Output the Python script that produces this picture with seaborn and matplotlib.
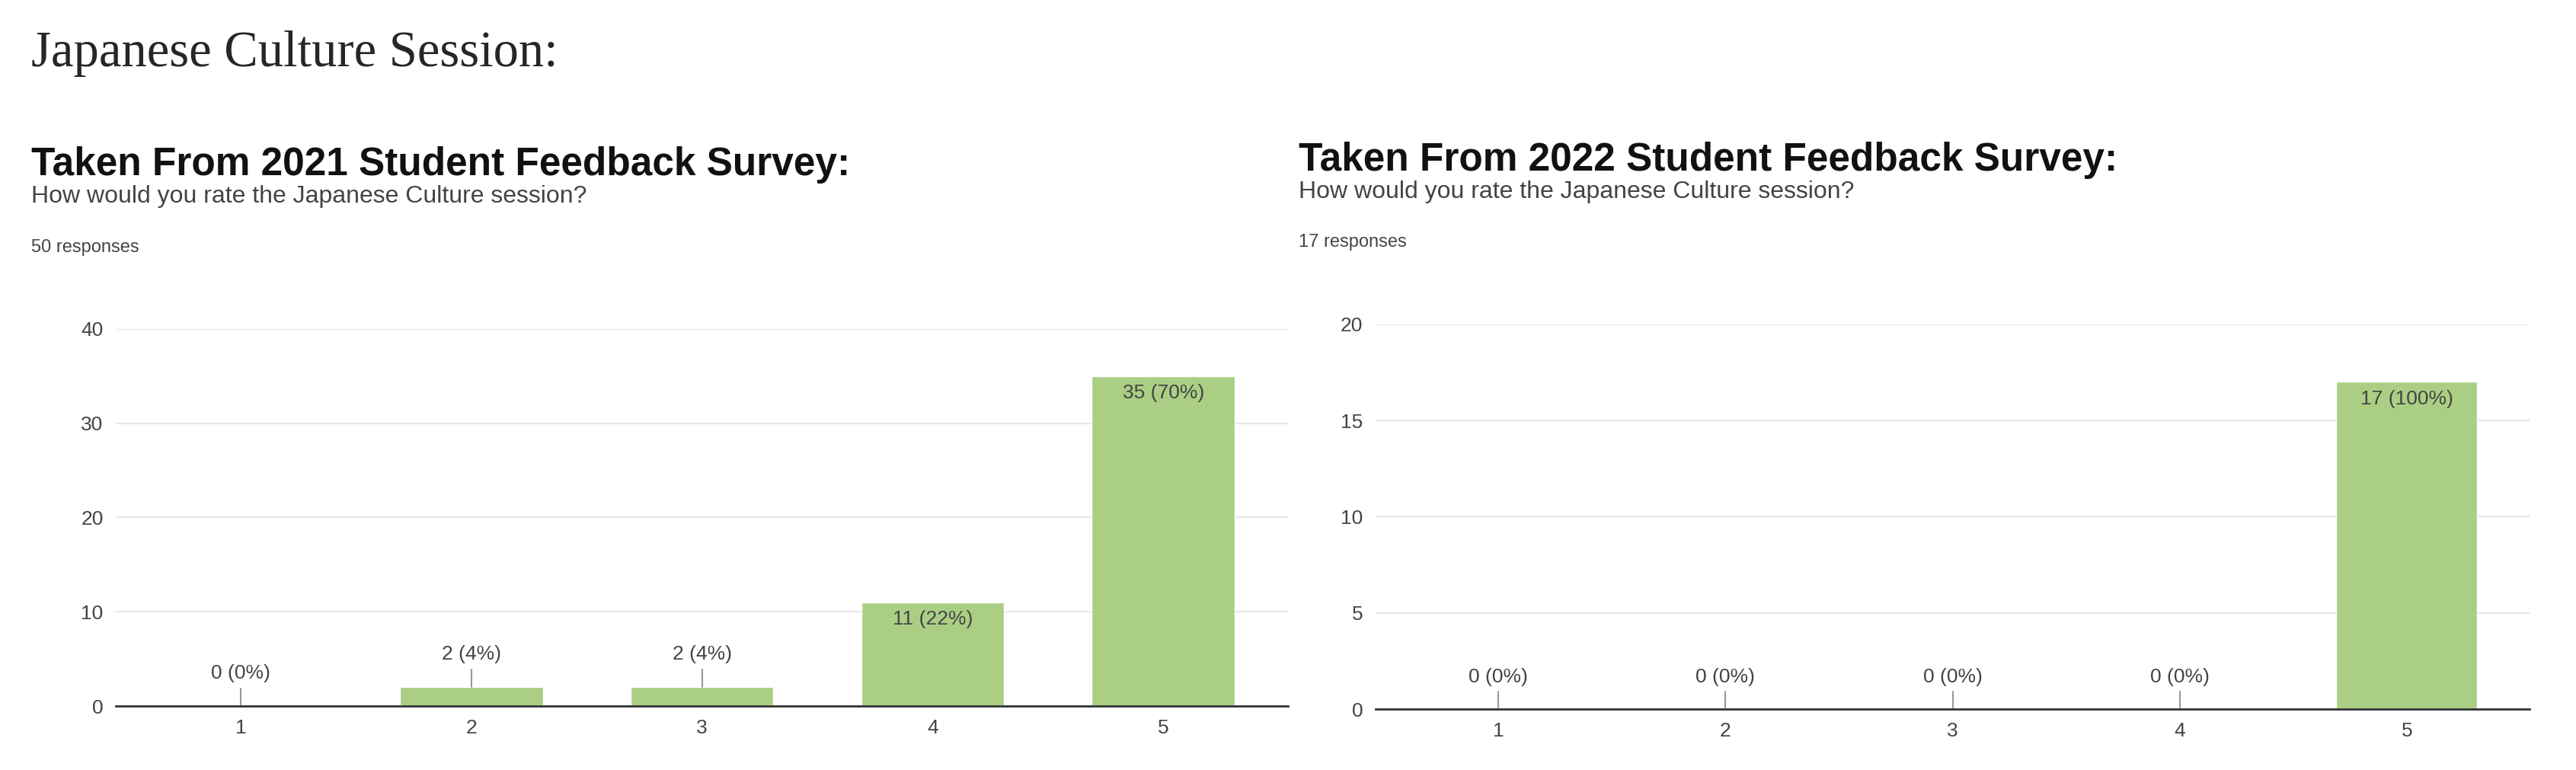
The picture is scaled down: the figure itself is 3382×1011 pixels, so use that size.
import matplotlib.pyplot as plt
import seaborn as sns
import pandas as pd

ratings = ['1', '2', '3', '4', '5']
counts_2021 = [0, 2, 2, 11, 35]
pct_2021 = [0, 4, 4, 22, 70]
counts_2022 = [0, 0, 0, 0, 17]
pct_2022 = [0, 0, 0, 0, 100]

sns.set_style('white')
plt.rcParams['font.family'] = ['Liberation Sans', 'DejaVu Sans']

fig = plt.figure(figsize=(33.82, 10.11), dpi=100)
fig.text(0.012, 0.93, 'Japanese Culture Session:', family='Liberation Serif', fontsize=48, va='center')

bar_col = '#aacf84'
grid_col = '#e6e6e6'
txt_col = '#444444'


def panel(rect, title, title_x, counts, pct, ymax, step, nresp, label_off):
    ax = fig.add_axes(rect)
    df = pd.DataFrame({'rating': ratings, 'count': counts})
    sns.barplot(data=df, x='rating', y='count', color=bar_col, width=0.62, ax=ax, saturation=1)
    ax.set_ylim(0, ymax)
    ax.set_yticks(range(0, ymax + 1, step))
    ax.yaxis.grid(True, color=grid_col, lw=1.5)
    ax.set_axisbelow(True)
    for s in ['top', 'right', 'left']:
        ax.spines[s].set_visible(False)
    ax.spines['bottom'].set_color('#333333')
    ax.spines['bottom'].set_linewidth(2)
    ax.tick_params(labelsize=19, colors=txt_col, length=0, pad=12)
    ax.set_xlabel('')
    ax.set_ylabel('')
    for i, (c, p) in enumerate(zip(counts, pct)):
        lab = f'{c} ({p}%)'
        if c < ymax * 0.15:
            ax.plot([i, i], [c, c + label_off * 0.75], color='#999999', lw=1.5)
            ax.text(i, c + label_off, lab, ha='center', va='bottom', fontsize=19, color=txt_col)
        else:
            ax.text(i, c - ymax * 0.02, lab, ha='center', va='top', fontsize=19, color=txt_col)
    top = rect[1] + rect[3]
    fig.text(title_x, top + 0.213, title, fontsize=37, fontweight='heavy', color='#111111', va='center')
    fig.text(title_x, top + 0.172, 'How would you rate the Japanese Culture session?', fontsize=23, color=txt_col, va='center')
    fig.text(title_x, top + 0.106, f'{nresp} responses', fontsize=17, color=txt_col, va='center')
    return ax


panel([0.045, 0.083, 0.455, 0.49], 'Taken From 2021 Student Feedback Survey:', 0.012,
      counts_2021, pct_2021, 40, 10, 50, 2.5)
panel([0.534, 0.079, 0.448, 0.50], 'Taken From 2022 Student Feedback Survey:', 0.504,
      counts_2022, pct_2022, 20, 5, 17, 1.2)

fig.savefig('out.png', dpi=100)
